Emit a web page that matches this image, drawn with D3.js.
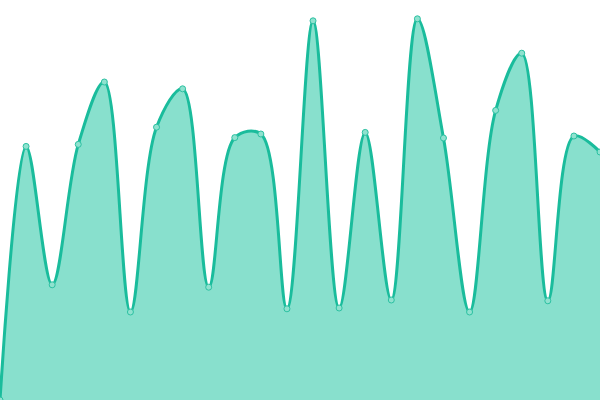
<!DOCTYPE html>
<html lang="en">
<head>
    <meta charset="UTF-8">
    <title>Area</title>
    <script src="https://d3js.org/d3.v7.min.js"></script>
    <style>
        body { margin: 0; background: #fff; }
    </style>
</head>
<body>
<div id="fig"></div>
<script>
    let w = 600, h = 400;

    // values on a 0..100 scale
    let values = [0, 63.4, 28.8, 63.9, 79.5, 22, 68.2, 77.8, 28.2, 65.6, 66.5, 22.8,
        94.8, 23, 66.9, 25, 95.3, 65.5, 22, 72.4, 86.7, 24.8, 66, 62];
    let idx = d3.range(values.length);

    let svg = d3.select("#fig").append("svg")
        .attr("width", w)
        .attr("height", h);

    let x = d3.scaleLinear().domain([0, values.length - 1]).range([0, w]);
    let y = d3.scaleLinear().domain([0, 100]).range([h, 0]);

    let curve = d3.curveCatmullRom;

    svg.append("path")
        .datum(idx)
        .attr("fill", "#88e0cd")
        .attr("d", d3.area().curve(curve)
            .x(i => x(i)).y0(h).y1(i => y(values[i])));

    svg.append("path")
        .datum(idx)
        .attr("fill", "none")
        .attr("stroke", "#1abc9c")
        .attr("stroke-width", 3)
        .attr("d", d3.line().curve(curve)
            .x(i => x(i)).y(i => y(values[i])));

    svg.selectAll("circle")
        .data(idx)
        .join("circle")
        .attr("cx", i => x(i))
        .attr("cy", i => y(values[i]))
        .attr("r", 3)
        .attr("fill", "#8fe2cf")
        .attr("stroke", "#2cc1a2")
        .attr("stroke-width", 1);
</script>
</body>
</html>
